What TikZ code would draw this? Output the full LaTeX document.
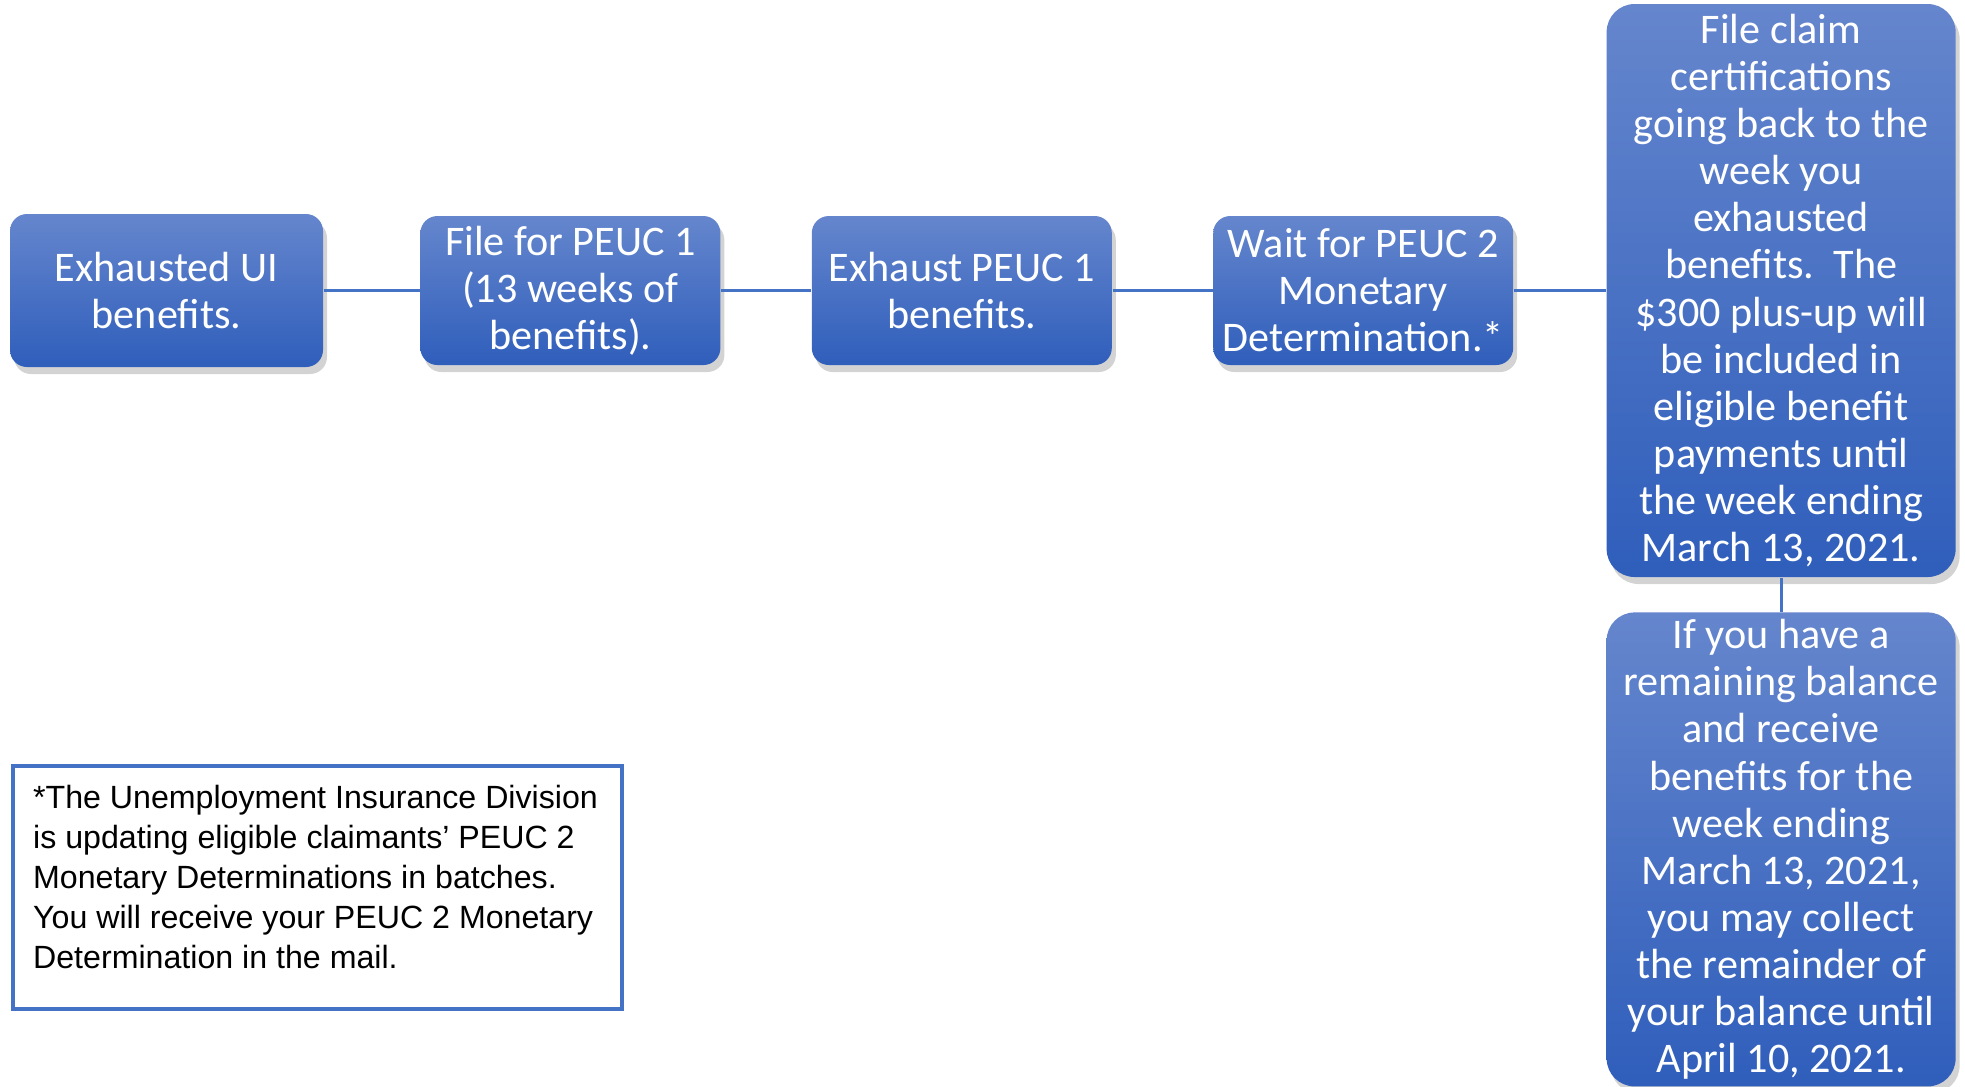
\documentclass[tikz,border=0pt]{standalone}
\usepackage{fontspec}
\setmainfont{Carlito}
\newfontfamily\notefont{Liberation Sans}
\usepackage{xcolor}
\usetikzlibrary{positioning,shadows}
\definecolor{boxtop}{RGB}{101,134,205}
\definecolor{boxbot}{RGB}{47,94,187}
\definecolor{linkblue}{RGB}{68,114,196}

\begin{document}
\begin{tikzpicture}[x=0.1mm, y=-0.1mm,
  node distance=9.6mm,
  stepbox/.style={rectangle, rounded corners=1.7mm, top color=boxtop, bottom color=boxbot, text=white, align=center, inner sep=0pt, font=\fontsize{12pt}{13.4pt}\selectfont, drop shadow={opacity=0.35, shadow xshift=0.4mm, shadow yshift=-0.7mm}},
  tallbox/.style={stepbox, rounded corners=2.8mm, minimum width=34.9mm},
  link/.style={draw=linkblue, line width=0.8pt}
]
\useasboundingbox (0,0) rectangle (1965,1086);

\node[stepbox, minimum width=31.3mm, minimum height=15.3mm] (ui) at (166.5,290.5) {Exhausted UI\\benefits.};
\node[stepbox, minimum width=30mm, minimum height=14.9mm, right=of ui] (filepeuc) {File for PEUC 1\\(13 weeks of\\benefits).};
\node[stepbox, minimum width=30mm, minimum height=14.9mm, right=9mm of filepeuc] (exhaust) {Exhaust PEUC 1\\benefits.};
\node[stepbox, minimum width=30mm, minimum height=14.9mm, right=10mm of exhaust] (wait) {Wait for PEUC 2\\Monetary\\Determination.*};
\node[tallbox, minimum height=57.3mm, right=9.2mm of wait] (certify) {File claim\\certifications\\going back to the\\week you\\exhausted\\benefits.\ \ The\\\$300 plus-up will\\be included in\\eligible benefit\\payments until\\the week ending\\March 13, 2021.};
\node[tallbox, minimum height=47.4mm, below=3.4mm of certify] (remain) {If you have a\\remaining balance\\and receive\\benefits for the\\week ending\\March 13, 2021,\\you may collect\\the remainder of\\your balance until\\April 10, 2021.};

\draw[link] (ui) -- (filepeuc);
\draw[link] (filepeuc) -- (exhaust);
\draw[link] (exhaust) -- (wait);
\draw[link] (wait) -- (certify);
\draw[link] (certify) -- (remain);

% footnote box
\node[draw=linkblue, line width=0.9pt, minimum width=60.9mm, minimum height=24.3mm, inner sep=0pt] (note) at (317.5,887.5) {};
\node[anchor=north west, inner sep=0pt, align=left, font=\notefont\fontsize{9.15pt}{11.35pt}\selectfont] (notetext) at ([shift={(2.1mm,-2mm)}]note.north west) {*The Unemployment Insurance Division\\is updating eligible claimants’ PEUC 2\\Monetary Determinations in batches.\\You will receive your PEUC 2 Monetary\\Determination in the mail.};

\end{tikzpicture}
\end{document}
